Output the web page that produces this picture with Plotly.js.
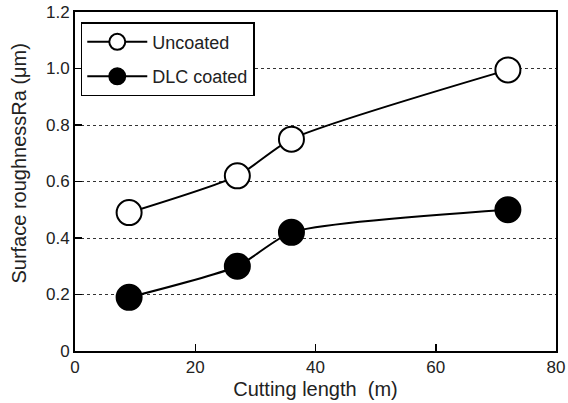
<!DOCTYPE html>
<html>
<head>
<meta charset="utf-8">
<script src="https://cdn.plot.ly/plotly-3.0.1.min.js"></script>
<style>html,body{margin:0;padding:0;background:#fff;}#chart{width:568px;height:403px;}</style>
</head>
<body>
<div id="chart"></div>
<script>
const cuttingLength = [9, 27, 36, 72];
const uncoated = [0.49, 0.62, 0.75, 0.995];
const dlcCoated = [0.19, 0.30, 0.42, 0.50];
const seriesNames = ["Uncoated", "DLC coated"];
const xTicks = [0, 20, 40, 60, 80];
const xTickText = ["0", "20", "40", "60", "80"];
const yTicks = [0, 0.2, 0.4, 0.6, 0.8, 1.0, 1.2];
const yTickText = ["0", "0.2", "0.4", "0.6", "0.8", "1.0", "1.2"];

const font = "Liberation Sans, Arial, Helvetica, sans-serif";
const txt = "#222";

const traces = [
  {
    x: cuttingLength, y: uncoated, name: seriesNames[0], legendgroup: "a", type: "scatter", mode: "lines+markers",
    line: {color: "#000", width: 2, shape: "spline", smoothing: 0.6},
    marker: {symbol: "circle", size: 25, color: "#fff", line: {color: "#000", width: 2}}
  },
  {
    x: cuttingLength, y: dlcCoated, name: seriesNames[1], legendgroup: "b", type: "scatter", mode: "lines+markers",
    line: {color: "#000", width: 2, shape: "spline", smoothing: 0.6},
    marker: {symbol: "circle", size: 25, color: "#000", line: {color: "#000", width: 2}}
  }
];

const layout = {
  width: 568, height: 403,
  margin: {l: 75, r: 12, t: 12, b: 52},
  paper_bgcolor: "#fff", plot_bgcolor: "#fff",
  font: {family: font, color: txt, size: 17},
  showlegend: true,
  legend: {
    x: 0.012, y: 0.97, xanchor: "left", yanchor: "top",
    bordercolor: "#000", borderwidth: 1.5, bgcolor: "#fff",
    font: {family: font, size: 18, color: txt},
    itemsizing: "trace", tracegroupgap: 8, itemwidth: 60
  },
  xaxis: {
    range: [0, 80], tickvals: xTicks, ticktext: xTickText, ticks: "inside", ticklen: 7, tickwidth: 1.5, tickcolor: "#000",
    showline: true, linecolor: "#000", linewidth: 2, mirror: true, showgrid: false, zeroline: false,
    ticklabeloverflow: "allow",
    tickfont: {size: 17, family: font, color: txt},
    title: {text: "Cutting length  (m)", font: {size: 20, family: font, color: txt}, standoff: 6}
  },
  yaxis: {
    range: [0, 1.2], tickvals: yTicks, ticktext: yTickText, ticks: "inside", ticklen: 7, tickwidth: 1.5, tickcolor: "#000",
    showline: true, linecolor: "#000", linewidth: 2, mirror: true, zeroline: false,
    showgrid: true, gridcolor: "#333", gridwidth: 1, griddash: "dot",
    tickfont: {size: 17, family: font, color: txt}
  },
  annotations: [
    {
      text: "Surface roughnessRa (μm)", xref: "paper", yref: "paper", x: -0.117, y: 0.555,
      xanchor: "center", yanchor: "middle", textangle: -90, showarrow: false,
      font: {size: 20, family: font, color: txt}
    }
  ]
};

Plotly.newPlot("chart", traces, layout, {displayModeBar: false, staticPlot: true});
</script>
</body>
</html>
